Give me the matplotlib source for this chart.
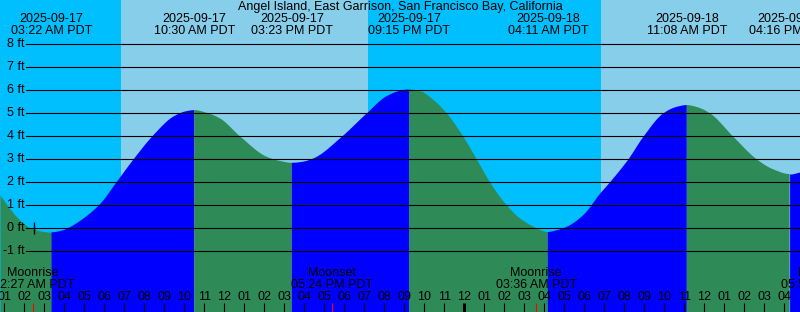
import matplotlib
matplotlib.use('Agg')
import matplotlib.pyplot as plt
import numpy as np

plt.rcParams['font.family'] = ['Liberation Sans', 'DejaVu Sans']
plt.rcParams['font.size'] = 9

# hours since 2025-09-17 00:00 PDT
t_start = 0.79
t_end = 40.79

title = 'Angel Island, East Garrison, San Francisco Bay, California'

# tide curve (hours, ft)
tide_t = [0.79, 1.29, 1.79, 2.29, 2.79, 3.37, 3.89, 4.29, 4.79, 5.79, 6.63, 7.54,
          8.46, 9.46, 10.04, 10.50, 11.14, 11.79, 12.79, 14.13, 14.79, 15.38, 15.89,
          16.46, 17.88, 19.13, 20.13, 20.79, 21.25, 21.84, 22.44, 23.13, 23.96, 24.63,
          25.29, 26.13, 26.79, 27.46, 27.79, 28.18, 28.64, 29.14, 29.96, 30.79, 31.29,
          32.21, 32.96, 33.96, 34.54, 35.13, 35.69, 36.29, 37.46, 38.63, 39.44, 40.27,
          40.79]
tide_ft = [1.45, 0.85, 0.35, 0.03, -0.11, -0.17, -0.10, 0.05, 0.32, 1.05, 2.02, 3.08,
           4.05, 4.86, 5.08, 5.14, 5.02, 4.78, 4.00, 3.11, 2.93, 2.85, 2.89,
           3.04, 3.98, 5.00, 5.75, 5.98, 6.04, 5.95, 5.60, 5.00, 3.98, 3.00,
           2.00, 1.00, 0.43, 0.07, -0.07, -0.16, -0.08, 0.07, 0.58, 1.50, 2.00,
           3.00, 3.98, 5.00, 5.26, 5.36, 5.26, 5.00, 3.98, 3.00, 2.57, 2.36,
           2.45]

# highs and lows
ext_t = [3.37, 10.50, 15.38, 21.25, 28.18, 35.13, 40.27]
ext_date = ['2025-09-17', '2025-09-17', '2025-09-17', '2025-09-17',
            '2025-09-18', '2025-09-18', '2025-09-18']
ext_clock = ['03:22 AM PDT', '10:30 AM PDT', '03:23 PM PDT', '09:15 PM PDT',
             '04:11 AM PDT', '11:08 AM PDT', '04:16 PM PDT']

# sun
day_spans = [(6.82, 19.18), (30.83, 44.0)]

# moon
moon_t = [2.45, 17.40, 27.60, 41.87]
moon_kind = ['Moonrise', 'Moonset', 'Moonrise', 'Moonset']
moon_clock = ['02:27 AM PDT', '05:24 PM PDT', '03:36 AM PDT', '05:52 PM PDT']

now_t = 2.5
levels = [8, 7, 6, 5, 4, 3, 2, 1, 0, -1]

night_c = '#00BFFF'
day_c = '#87CEEB'
rise_c = '#0000FF'
fall_c = '#2E8B57'


def smooth(x, y, xn):
    # monotone cubic through the read points, only so the curve draws smooth
    x = np.asarray(x, float)
    y = np.asarray(y, float)
    hk = np.diff(x)
    dk = np.diff(y) / hk
    m = np.zeros_like(y)
    for k in range(1, len(x) - 1):
        if dk[k - 1] * dk[k] > 0:
            w1 = 2 * hk[k] + hk[k - 1]
            w2 = hk[k] + 2 * hk[k - 1]
            m[k] = (w1 + w2) / (w1 / dk[k - 1] + w2 / dk[k])
    m[0] = dk[0]
    m[-1] = dk[-1]
    i = np.clip(np.searchsorted(x, xn) - 1, 0, len(x) - 2)
    s = (xn - x[i]) / hk[i]
    return ((2 * s**3 - 3 * s**2 + 1) * y[i] + (s**3 - 2 * s**2 + s) * hk[i] * m[i]
            + (-2 * s**3 + 3 * s**2) * y[i + 1] + (s**3 - s**2) * hk[i] * m[i + 1])


W, H = 800, 312
fig = plt.figure(figsize=(8, 3.12), dpi=100)
ax = fig.add_axes([0, 0, 1, 1])
ax.set_xlim(t_start, t_end)
ax.set_ylim(-3.64, 9.93)
ax.axis('off')

ax.axvspan(t_start, t_end, color=night_c, lw=0, zorder=0)
for a, b in day_spans:
    ax.axvspan(a, b, color=day_c, lw=0, zorder=0)

edges = [tide_t[0]] + ext_t + [tide_t[-1]]
for a, b in zip(edges[:-1], edges[1:]):
    if b - a < 1e-6:
        continue
    tt = np.linspace(a, b, 200)
    hh = smooth(tide_t, tide_ft, tt)
    c = rise_c if hh[-1] > hh[0] else fall_c
    ax.fill_between(tt, hh, -10, color=c, lw=0, zorder=1)

xt = ax.get_xaxis_transform()
yt = ax.get_yaxis_transform()

for v in levels:
    ax.axhline(v, xmin=26 / W, color='black', lw=0.8, zorder=2)
    ax.text(24.5 / W, v, f'{v} ft', transform=yt, ha='right', va='center', zorder=3)

ax.plot([now_t], [0], marker='|', ms=8, mew=1, color='black', zorder=3)

ax.text(0.5, 1 - 7 / H, title, transform=ax.transAxes, ha='center', va='center')
for tx, d, c in zip(ext_t, ext_date, ext_clock):
    ax.text(tx, 1 - 19.5 / H, d, transform=xt, ha='center', va='center')
    ax.text(tx, 1 - 31.5 / H, c, transform=xt, ha='center', va='center')

for tx, k, c in zip(moon_t, moon_kind, moon_clock):
    ax.text(tx, 1 - 273 / H, k, transform=xt, ha='center', va='center')
    ax.text(tx, 1 - 285 / H, c, transform=xt, ha='center', va='center')
    ax.vlines(tx, 0, 9 / H, transform=xt, color='red', lw=0.8, zorder=3)

for hr in range(1, 41):
    lab = '%02d' % (hr % 12 if hr % 12 else 12)
    ax.text(hr, 1 - 297.5 / H, lab, transform=xt, ha='center', va='center')
    lw = 2.2 if hr % 24 == 0 else 0.8
    ax.vlines(hr, 0, 9 / H, transform=xt, color='black', lw=lw, zorder=3)

fig.savefig('out.png', dpi=100)
